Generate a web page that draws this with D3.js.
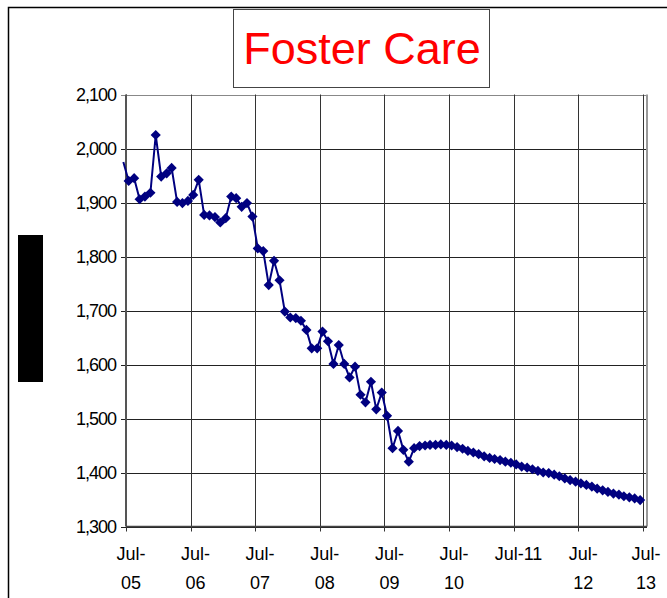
<!DOCTYPE html>
<html>
<head>
<meta charset="utf-8">
<script src="https://cdn.jsdelivr.net/npm/d3@7"></script>
<style>
  html, body { margin: 0; padding: 0; background: #fff; }
  svg { display: block; }
  text { font-family: "Liberation Sans", Arial, sans-serif; }
</style>
</head>
<body>
<svg id="chart" width="667" height="598"></svg>
<script>
// ---- data ----
const title = "Foster Care";
const startYear = 2005, startMonth = 5; // first data point: Jun-05 (month index 5 = June)
const fosterCare = [
  1975, // Jun-05
  1940, 1945, 1906, 1911, 1918, 2025, 1948, 1954, 1964, 1901, 1899, 1903, // Jul-05 .. Jun-06
  1914, 1942, 1877, 1876, 1873, 1863, 1871, 1911, 1908, 1892, 1899, 1874, // Jul-06 .. Jun-07
  1815, 1810, 1747, 1792, 1756, 1698, 1687, 1686, 1681, 1664, 1630, 1630, // Jul-07 .. Jun-08
  1661, 1643, 1601, 1636, 1601, 1576, 1596, 1544, 1530, 1568, 1517, 1548, // Jul-08 .. Jun-09
  1505, 1445, 1477, 1442, 1420, 1445, 1449, 1450, 1451, 1451, 1452, 1451, // Jul-09 .. Jun-10
  1450, 1447, 1444, 1440, 1437, 1434, 1430, 1427, 1425, 1423, 1420, 1418, // Jul-10 .. Jun-11
  1415, 1411, 1409, 1406, 1403, 1400, 1399, 1396, 1393, 1389, 1386, 1383, // Jul-11 .. Jun-12
  1380, 1377, 1374, 1370, 1367, 1364, 1361, 1359, 1356, 1354, 1352, 1349  // Jul-12 .. Jun-13
];
const yTicks = [1300, 1400, 1500, 1600, 1700, 1800, 1900, 2000, 2100];
const xTickYears = [2005, 2006, 2007, 2008, 2009, 2010, 2011, 2012, 2013];
const xTickLabels = [["Jul-","05"],["Jul-","06"],["Jul-","07"],["Jul-","08"],["Jul-","09"],["Jul-","10"],["Jul-11"],["Jul-","12"],["Jul-","13"]];

// ---- drawing ----
const svg = d3.select("#chart");
const plot = { left: 126, right: 647, top: 94.5, bottom: 526.5 };

const x = d3.scaleTime()
  .domain([new Date(2005, 6, 1), new Date(2013, 6, 1)])
  .range([126, 642.8]);
const y = d3.scaleLinear().domain([1300, 2100]).range([plot.bottom, plot.top]);

const data = fosterCare.map((v, i) => ({ date: new Date(startYear, startMonth + i, 16), value: v, i }));

// outer chart frame (left and top edges visible)
svg.append("path")
  .attr("d", "M8.5,598 L8.5,7.5 L667,7.5")
  .attr("fill", "none").attr("stroke", "#000").attr("stroke-width", 1.5);

// title box
svg.append("rect").attr("x", 233.5).attr("y", 9.5).attr("width", 256).attr("height", 78)
  .attr("fill", "#fff").attr("stroke", "#444").attr("stroke-width", 1);
svg.append("text").attr("x", 362).attr("y", 64)
  .attr("text-anchor", "middle").attr("font-size", 45).attr("fill", "#ff0000")
  .text(title);

// redacted axis title block
svg.append("rect").attr("x", 18).attr("y", 235).attr("width", 25).attr("height", 147).attr("fill", "#000");

// horizontal gridlines
svg.append("g").selectAll("line").data(yTicks).join("line")
  .attr("x1", plot.left - 5).attr("x2", plot.right)
  .attr("y1", d => Math.round(y(d)) + 0.5).attr("y2", d => Math.round(y(d)) + 0.5)
  .attr("stroke", d => d === 2100 ? "#888" : "#222").attr("stroke-width", 1);

// vertical gridlines
svg.append("g").selectAll("line").data(xTickYears).join("line")
  .attr("x1", d => Math.round(x(new Date(d, 6, 1))) + 0.5)
  .attr("x2", d => Math.round(x(new Date(d, 6, 1))) + 0.5)
  .attr("y1", plot.top).attr("y2", plot.bottom + 5)
  .attr("stroke", "#333").attr("stroke-width", 1);

// plot right border
svg.append("line").attr("x1", plot.right).attr("x2", plot.right)
  .attr("y1", plot.top).attr("y2", plot.bottom)
  .attr("stroke", "#999").attr("stroke-width", 2);
// left axis line
svg.append("line").attr("x1", plot.left).attr("x2", plot.left)
  .attr("y1", plot.top).attr("y2", plot.bottom)
  .attr("stroke", "#555").attr("stroke-width", 2);
// bottom axis line
svg.append("line").attr("x1", plot.left).attr("x2", plot.right)
  .attr("y1", plot.bottom).attr("y2", plot.bottom)
  .attr("stroke", "#444").attr("stroke-width", 1.5);

// y labels
svg.append("g").selectAll("text").data(yTicks).join("text")
  .attr("x", 116).attr("y", d => y(d)).attr("dy", "0.35em")
  .attr("text-anchor", "end").attr("font-size", 18).attr("letter-spacing", -1)
  .attr("fill", "#000")
  .text(d => d3.format(",")(d));

// x labels
const xl = svg.append("g").selectAll("text").data(xTickYears).join("text")
  .attr("text-anchor", "middle").attr("font-size", 18).attr("fill", "#000")
  .attr("transform", (d, i) => {
    let cx = x(new Date(d, 6, 1)) + 5;
    if (cx > 646) cx = 646;
    return `translate(${cx},0)`;
  });
xl.each(function(d, i) {
  const lines = xTickLabels[i];
  d3.select(this).selectAll("tspan").data(lines).join("tspan")
    .attr("x", 0).attr("y", (t, j) => 560 + j * 29)
    .text(t => t);
});

// clip for the series
svg.append("clipPath").attr("id", "clip").append("rect")
  .attr("x", 122).attr("y", plot.top - 10).attr("width", plot.right - 122).attr("height", plot.bottom - plot.top + 20);

const g = svg.append("g").attr("clip-path", "url(#clip)");
g.append("path").datum(data)
  .attr("d", d3.line().x(d => x(d.date)).y(d => y(d.value)))
  .attr("fill", "none").attr("stroke", "#000080").attr("stroke-width", 2);

g.selectAll("path.m").data(data.filter(d => d.i > 0)).join("path").attr("class", "m")
  .attr("d", d3.symbol().type(d3.symbolDiamond2).size(66))
  .attr("transform", d => `translate(${x(d.date)},${y(d.value)})`)
  .attr("fill", "#000080");
</script>
</body>
</html>
